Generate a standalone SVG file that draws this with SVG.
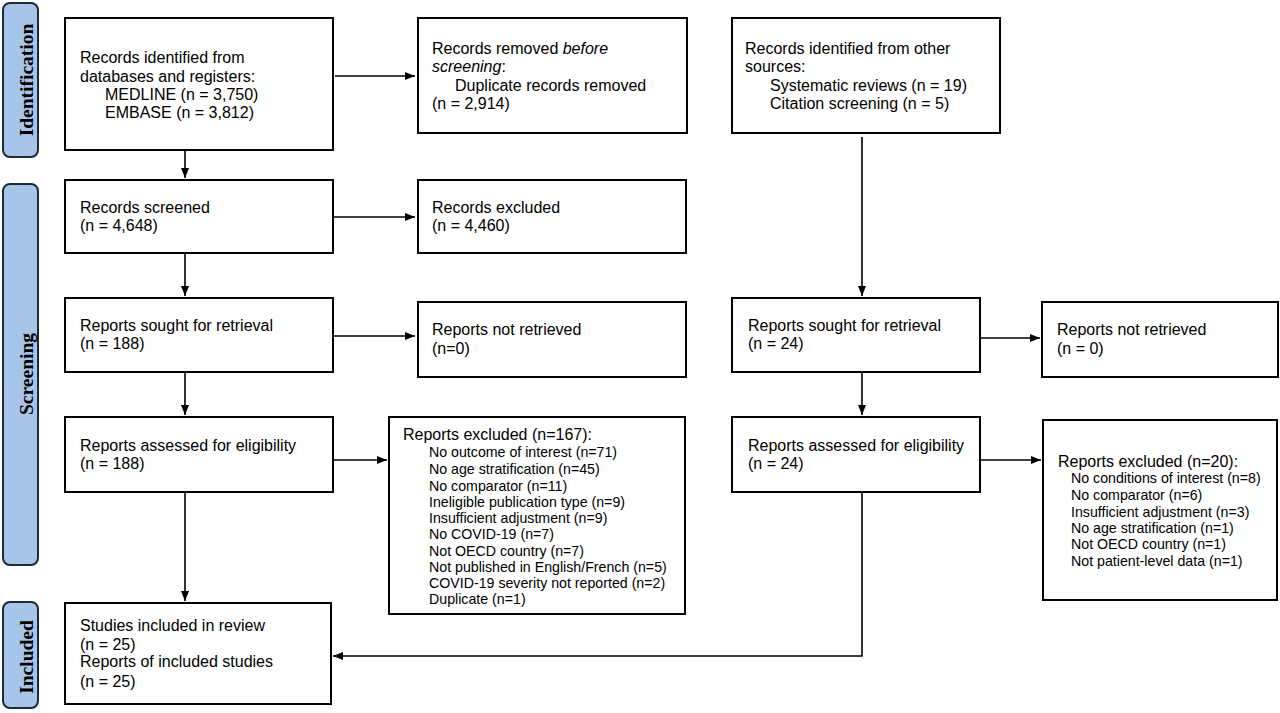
<svg xmlns="http://www.w3.org/2000/svg" width="1280" height="713" viewBox="0 0 1280 713">
<defs>
<marker id="ah" markerWidth="10" markerHeight="8" refX="10" refY="4" orient="auto" markerUnits="userSpaceOnUse">
<path d="M0,0 L10,4 L0,8 Z" fill="#000"/>
</marker>
<style>
.box{fill:#fff;stroke:#000;stroke-width:2}
.side{fill:#a6c5e8;stroke:#1e2a38;stroke-width:2}
.t{font-family:"Liberation Sans",Arial,sans-serif;font-size:16px;fill:#000}
.s{font-family:"Liberation Sans",Arial,sans-serif;font-size:14.2px;fill:#000}
.lab{font-family:"Liberation Serif","Times New Roman",serif;font-size:19.5px;font-weight:bold;fill:#000}
.c{fill:none;stroke:#000;stroke-width:1.6}
</style>
</defs>
<rect width="1280" height="713" fill="#fff"/>
<g id="side-identification">
<rect class="side" x="3" y="3" width="35" height="154" rx="7"/>
<text class="lab" transform="translate(33,80) rotate(-90)" text-anchor="middle">Identification</text>
</g>
<g id="side-screening">
<rect class="side" x="3" y="184" width="35" height="381" rx="7"/>
<text class="lab" transform="translate(33,374) rotate(-90)" text-anchor="middle">Screening</text>
</g>
<g id="side-included">
<rect class="side" x="3" y="602" width="35" height="106" rx="7"/>
<text class="lab" transform="translate(33,657) rotate(-90)" text-anchor="middle">Included</text>
</g>
<g id="n1">
<rect class="box" x="65" y="18" width="268" height="132"/>
<text class="t" x="80" y="63">Records identified from</text>
<text class="t" x="80" y="82">databases and registers:</text>
<text class="t" x="105" y="100">MEDLINE (n = 3,750)</text>
<text class="t" x="105" y="118">EMBASE (n = 3,812)</text>
</g>
<g id="n2">
<rect class="box" x="418" y="18" width="269" height="115"/>
<text class="t" x="432" y="54">Records removed <tspan font-style="italic">before</tspan></text>
<text class="t" x="432" y="72"><tspan font-style="italic">screening</tspan>:</text>
<text class="t" x="455" y="91">Duplicate records removed</text>
<text class="t" x="432" y="109">(n = 2,914)</text>
</g>
<g id="n3">
<rect class="box" x="732" y="18" width="268" height="115"/>
<text class="t" x="745" y="54">Records identified from other</text>
<text class="t" x="745" y="72">sources:</text>
<text class="t" x="770" y="91">Systematic reviews (n = 19)</text>
<text class="t" x="770" y="109">Citation screening (n = 5)</text>
</g>
<g id="n4">
<rect class="box" x="65" y="180" width="268" height="73"/>
<text class="t" x="80" y="213">Records screened</text>
<text class="t" x="80" y="231">(n = 4,648)</text>
</g>
<g id="n5">
<rect class="box" x="418" y="180" width="268" height="73"/>
<text class="t" x="432" y="213">Records excluded</text>
<text class="t" x="432" y="231">(n = 4,460)</text>
</g>
<g id="n6">
<rect class="box" x="65" y="298" width="268" height="74"/>
<text class="t" x="80" y="331">Reports sought for retrieval</text>
<text class="t" x="80" y="349">(n = 188)</text>
</g>
<g id="n7">
<rect class="box" x="418" y="302" width="268" height="75"/>
<text class="t" x="432" y="335">Reports not retrieved</text>
<text class="t" x="432" y="354">(n=0)</text>
</g>
<g id="n8">
<rect class="box" x="732" y="298" width="248" height="74"/>
<text class="t" x="748" y="331">Reports sought for retrieval</text>
<text class="t" x="748" y="349">(n = 24)</text>
</g>
<g id="n9">
<rect class="box" x="1042" y="302" width="236" height="75"/>
<text class="t" x="1057" y="335">Reports not retrieved</text>
<text class="t" x="1057" y="354">(n = 0)</text>
</g>
<g id="n10">
<rect class="box" x="65" y="417" width="268" height="75"/>
<text class="t" x="80" y="451">Reports assessed for eligibility</text>
<text class="t" x="80" y="469">(n = 188)</text>
</g>
<g id="n11">
<rect class="box" x="389" y="417" width="296" height="197"/>
<text class="t" x="403" y="440">Reports excluded (n=167):</text>
<text class="s" x="429" y="457">No outcome of interest (n=71)</text>
<text class="s" x="429" y="474">No age stratification (n=45)</text>
<text class="s" x="429" y="491">No comparator (n=11)</text>
<text class="s" x="429" y="507">Ineligible publication type (n=9)</text>
<text class="s" x="429" y="523">Insufficient adjustment (n=9)</text>
<text class="s" x="429" y="539">No COVID-19 (n=7)</text>
<text class="s" x="429" y="556">Not OECD country (n=7)</text>
<text class="s" x="429" y="572">Not published in English/French (n=5)</text>
<text class="s" x="429" y="588">COVID-19 severity not reported (n=2)</text>
<text class="s" x="429" y="604">Duplicate (n=1)</text>
</g>
<g id="n12">
<rect class="box" x="732" y="417" width="248" height="75"/>
<text class="t" x="748" y="451">Reports assessed for eligibility</text>
<text class="t" x="748" y="469">(n = 24)</text>
</g>
<g id="n13">
<rect class="box" x="1043" y="420" width="234" height="180"/>
<text class="t" x="1058" y="467">Reports excluded (n=20):</text>
<text class="s" x="1071" y="483">No conditions of interest (n=8)</text>
<text class="s" x="1071" y="500">No comparator (n=6)</text>
<text class="s" x="1071" y="517">Insufficient adjustment (n=3)</text>
<text class="s" x="1071" y="533">No age stratification (n=1)</text>
<text class="s" x="1071" y="549">Not OECD country (n=1)</text>
<text class="s" x="1071" y="566">Not patient-level data (n=1)</text>
</g>
<g id="n14">
<rect class="box" x="65" y="603" width="266" height="101"/>
<text class="t" x="80" y="631">Studies included in review</text>
<text class="t" x="80" y="650">(n = 25)</text>
<text class="t" x="80" y="667">Reports of included studies</text>
<text class="t" x="80" y="687">(n = 25)</text>
</g>
<g id="connectors">
<line class="c" x1="335" y1="76" x2="415" y2="76" marker-end="url(#ah)"/>
<line class="c" x1="185" y1="150" x2="185" y2="178" marker-end="url(#ah)"/>
<line class="c" x1="333" y1="217" x2="415" y2="217" marker-end="url(#ah)"/>
<line class="c" x1="185" y1="253" x2="185" y2="296" marker-end="url(#ah)"/>
<line class="c" x1="333" y1="336" x2="415" y2="336" marker-end="url(#ah)"/>
<line class="c" x1="185" y1="372" x2="185" y2="415" marker-end="url(#ah)"/>
<line class="c" x1="333" y1="460" x2="387" y2="460" marker-end="url(#ah)"/>
<line class="c" x1="185" y1="492" x2="185" y2="601" marker-end="url(#ah)"/>
<line class="c" x1="862" y1="137" x2="862" y2="296" marker-end="url(#ah)"/>
<line class="c" x1="980" y1="338" x2="1040" y2="338" marker-end="url(#ah)"/>
<line class="c" x1="862" y1="372" x2="862" y2="415" marker-end="url(#ah)"/>
<line class="c" x1="980" y1="460" x2="1041" y2="460" marker-end="url(#ah)"/>
<polyline class="c" points="862,492 862,656 333,656" marker-end="url(#ah)"/>
</g>
</svg>
